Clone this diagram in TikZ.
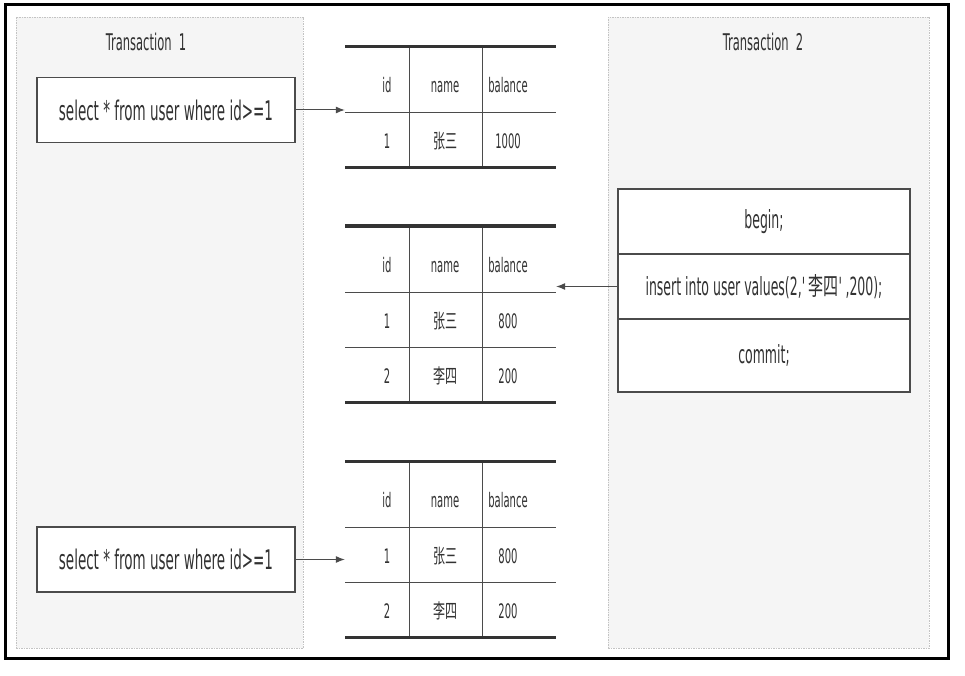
\documentclass[tikz,border=0pt]{standalone}
\usepackage{fontspec}
\setmainfont{DejaVu Sans}[FakeStretch=0.5]
\newfontfamily\cjk{Noto Sans CJK SC}[FakeStretch=0.6]
\usetikzlibrary{arrows.meta}
\definecolor{panelFill}{RGB}{245,245,245}
\definecolor{panelLine}{RGB}{195,195,195}
\definecolor{textColor}{RGB}{50,50,50}
\definecolor{lineColor}{RGB}{75,75,75}

\begin{document}
\begin{tikzpicture}[x=1pt, y=-1pt,
    panel/.style={rectangle, draw=panelLine, dash pattern=on 1.5pt off 1pt, fill=panelFill, inner sep=0pt},
    sqlbox/.style={rectangle, draw=lineColor, line width=1.3pt, fill=white, minimum width=258pt, minimum height=65pt, text=textColor, font=\fontsize{27}{30}\selectfont},
    txnbox/.style={rectangle, draw=lineColor, line width=1.3pt, fill=white, minimum width=292pt, minimum height=65pt, text=textColor, font=\fontsize{25}{28}\selectfont},
    title/.style={text=textColor, inner sep=0pt, font=\fontsize{23}{26}\selectfont},
    cell/.style={text=textColor, inner sep=0pt, anchor=base, font=\fontsize{20}{22}\selectfont},
    tabarea/.style={rectangle, minimum width=211pt, inner sep=0pt},
    rule/.style={draw=black!80, line width=3pt},
    grid/.style={draw=lineColor, line width=1pt},
    flow/.style={-{Latex[length=9pt,width=7pt]}, draw=lineColor, line width=1pt}]

    \useasboundingbox (0,0) rectangle (965,676);

    % Transactions
    \node[panel, minimum width=287pt, minimum height=631pt] (txn1) at (159.5,332.5) {};
    \node[panel, minimum width=321pt, minimum height=631pt] (txn2) at (768.5,332.5) {};
    \node[title] (title1) at (146,42) {Transaction~ 1};
    \node[title] (title2) at (763,42) {Transaction~ 2};

    \node[sqlbox] (sel1) at (166,110) {select * from user where id>=1};
    \node[sqlbox] (sel2) at (166,559.5) {select * from user where id>=1};

    \node[txnbox] (begin) at (764,221.5) {begin;};
    \node[txnbox] (insert) at (764,286.5) {insert into user values(2,\textquotesingle{\cjk 李四}\textquotesingle,200);};
    \node[txnbox, minimum height=73pt] (commit) at (764,355.5) {commit;};

    % Tables
    \node[tabarea, minimum height=121pt] (tab1) at (450.5,107.5) {};
    \node[tabarea, minimum height=176pt] (tab2) at (450.5,314) {};
    \node[tabarea, minimum height=176pt] (tab3) at (450.5,549) {};

    \foreach \top/\bot in {47/168, 226/402, 461/637}{
        \draw[grid] (409,\top) -- (409,\bot);
        \draw[grid] (482,\top) -- (482,\bot);
        \draw[grid] (345,\top+66) -- (556,\top+66);
        \draw[rule] (345,\top) -- (556,\top);
        \draw[rule] (345,\bot) -- (556,\bot);
        \node[cell] (id\top) at (387,\top+46) {id};
        \node[cell] (name\top) at (445,\top+46) {name};
        \node[cell] (bal\top) at (508,\top+46) {balance};
    }
    \draw[grid] (345,347) -- (556,347);
    \draw[grid] (345,582) -- (556,582);

    \node[cell] (t1id1) at (387,149) {1};
    \node[cell] (t1nm1) at (445,149) {\cjk 张三};
    \node[cell] (t1bal1) at (508,149) {1000};

    \node[cell] (t2id1) at (387,328) {1};
    \node[cell] (t2nm1) at (445,328) {\cjk 张三};
    \node[cell] (t2bal1) at (508,328) {800};
    \node[cell] (t2id2) at (387,383) {2};
    \node[cell] (t2nm2) at (445,383) {\cjk 李四};
    \node[cell] (t2bal2) at (508,383) {200};

    \node[cell] (t3id1) at (387,563) {1};
    \node[cell] (t3nm1) at (445,563) {\cjk 张三};
    \node[cell] (t3bal1) at (508,563) {800};
    \node[cell] (t3id2) at (387,618) {2};
    \node[cell] (t3nm2) at (445,618) {\cjk 李四};
    \node[cell] (t3bal2) at (508,618) {200};

    \draw[flow] (sel1.east) -- (sel1.east -| tab1.west);
    \draw[flow] (insert.west) -- (insert.west -| tab2.east);
    \draw[flow] (sel2.east) -- (sel2.east -| tab3.west);

    \draw[line width=3pt] (5,5) rectangle (948,658);
\end{tikzpicture}
\end{document}
